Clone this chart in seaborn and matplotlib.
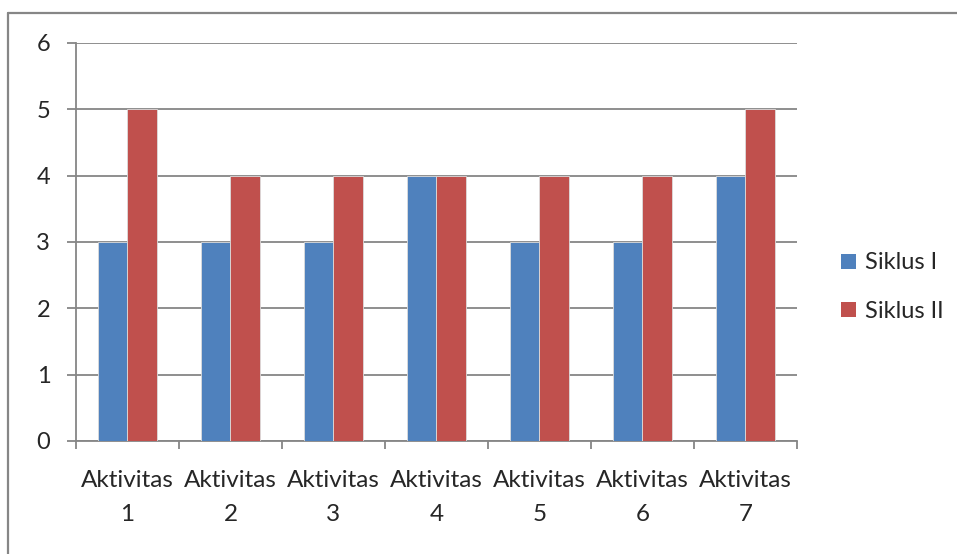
import seaborn as sns
import matplotlib.pyplot as plt
import pandas as pd
from matplotlib.lines import Line2D
from matplotlib.patches import Patch

categories = ['Aktivitas\n1', 'Aktivitas\n2', 'Aktivitas\n3', 'Aktivitas\n4',
              'Aktivitas\n5', 'Aktivitas\n6', 'Aktivitas\n7']
siklus_1 = [3, 3, 3, 4, 3, 3, 4]
siklus_2 = [5, 4, 4, 4, 4, 4, 5]
series = ['Siklus I', 'Siklus II']
colors = ['#4F81BD', '#C0504D']

df = pd.DataFrame({
    'kategori': categories * 2,
    'nilai': siklus_1 + siklus_2,
    'seri': [series[0]] * len(categories) + [series[1]] * len(categories),
})

sns.set_style('white')
plt.rcParams['font.family'] = ['Lato', 'DejaVu Sans']

fig = plt.figure(figsize=(9.57, 5.54), dpi=100)
ax = fig.add_axes([0.0794, 0.204, 0.7534, 0.7186])

sns.barplot(data=df, x='kategori', y='nilai', hue='seri', palette=colors,
            saturation=1, width=0.58, edgecolor='#dcdcdc', linewidth=0.6, ax=ax,
            legend=False, zorder=3)

ax.set_ylim(0, 6)
ax.set_xlim(-0.5, 6.5)
ax.set_yticks(range(0, 7))
ax.yaxis.grid(True, color='#868686', linewidth=1.3, zorder=0)
ax.set_axisbelow(True)
ax.set_xlabel('')
ax.set_ylabel('')

for s in ['top', 'right']:
    ax.spines[s].set_visible(False)
for s in ['left', 'bottom']:
    ax.spines[s].set_color('#868686')
    ax.spines[s].set_linewidth(1.3)

ax.tick_params(axis='y', direction='out', length=6.5, width=1.3, color='#868686',
               labelsize=17, pad=12, left=True)
ax.set_xticks([i - 0.5 for i in range(8)], minor=True)
ax.tick_params(axis='x', which='minor', direction='out', length=6, width=1.3,
               color='#868686', bottom=True)
ax.tick_params(axis='x', which='major', length=0, labelsize=17.5, pad=21)
for lbl in ax.get_xticklabels():
    lbl.set_linespacing(1.78)

handles = [Patch(facecolor=c, edgecolor='none') for c in colors]
fig.legend(handles, series, loc='center left', bbox_to_anchor=(0.857, 0.482),
           frameon=False, fontsize=17, handlelength=0.6, handleheight=0.6,
           handletextpad=0.4, labelspacing=1.15)

# outer chart frame
fig.add_artist(Line2D([8 / 957, 8 / 957], [0, 1 - 13 / 554], color='#868686',
                      linewidth=1.6, transform=fig.transFigure))
fig.add_artist(Line2D([8 / 957, 1], [1 - 13 / 554, 1 - 13 / 554], color='#868686',
                      linewidth=1.6, transform=fig.transFigure))

fig.savefig('out.png', dpi=100)
